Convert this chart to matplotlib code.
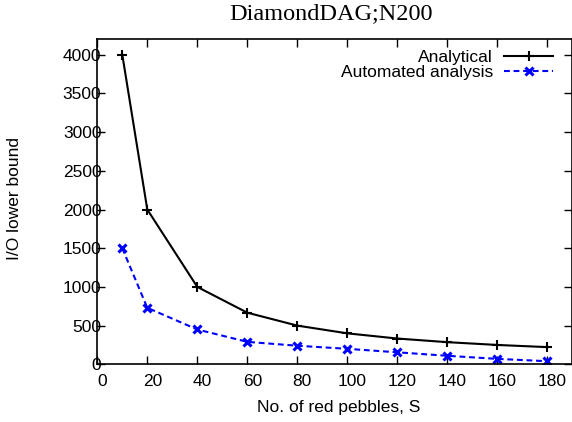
import matplotlib
matplotlib.use("Agg")
import matplotlib.pyplot as plt
import matplotlib.transforms as mtransforms

# ==========================
# data
# ==========================
red_pebbles = [10, 20, 40, 60, 80, 100, 120, 140, 160, 180]
analytical = [4000, 2000, 1000, 667, 500, 400, 333, 286, 250, 222]
automated = [1500, 730, 450, 290, 240, 200, 155, 110, 70, 40]

x_ticks = [0, 20, 40, 60, 80, 100, 120, 140, 160, 180]
y_ticks = [0, 500, 1000, 1500, 2000, 2500, 3000, 3500, 4000]

W, H = 572, 422
plt.rcParams["font.family"] = ["Liberation Sans", "DejaVu Sans"]

fig = plt.figure(figsize=(W / 100, H / 100), dpi=100)
ax = fig.add_axes([97.3 / W, 1 - 364.3 / H, (572.3 - 97.3) / W, (364.3 - 39.3) / H])

ax.plot(red_pebbles, analytical, color="black", lw=1.5, marker="+",
        ms=7, mew=1.5, label="Analytical")
ax.plot(red_pebbles, automated, color="blue", lw=1.5, ls=(0, (2.8, 1.8)),
        marker="x", ms=5.5, mew=2.2, label="Automated analysis")

ax.set_xlim(0, 190)
ax.set_ylim(0, 4200)
ax.set_xticks(x_ticks)
ax.set_yticks(y_ticks)
ax.tick_params(direction="in", length=6, width=1, top=True, right=True,
               labelsize=12.5)
ax.tick_params(axis="y", pad=-3)
ax.tick_params(axis="x", pad=7)
for s in ax.spines.values():
    s.set_linewidth(1.2)

# gnuplot puts the x tick labels a little right of the ticks
shift = mtransforms.ScaledTranslation(5 / 100, 0, fig.dpi_scale_trans)
for lab in ax.get_xticklabels():
    lab.set_transform(lab.get_transform() + shift)

fig.text(331 / W, 1 - 19 / H, "DiamondDAG;N200",
         family=["Liberation Serif", "DejaVu Serif"], fontsize=17.5,
         ha="center", va="baseline")
fig.text(339 / W, 1 - 407.5 / H, "No. of red pebbles, S", ha="center",
         va="center", fontsize=12.5)
fig.text(15 / W, 1 - 198 / H, "I/O lower bound", ha="center",
         va="center", rotation=90, fontsize=12.5)

leg = ax.legend(loc="upper right", bbox_to_anchor=(553 / W, 1 - 49.5 / H),
                bbox_transform=fig.transFigure, frameon=False,
                fontsize=12.5, markerfirst=False, handlelength=2.8,
                handletextpad=0.65, labelspacing=0.02, borderpad=0,
                borderaxespad=0)
for t in leg.get_texts():
    t.set_ha("right")

fig.savefig("out.png", dpi=100)
